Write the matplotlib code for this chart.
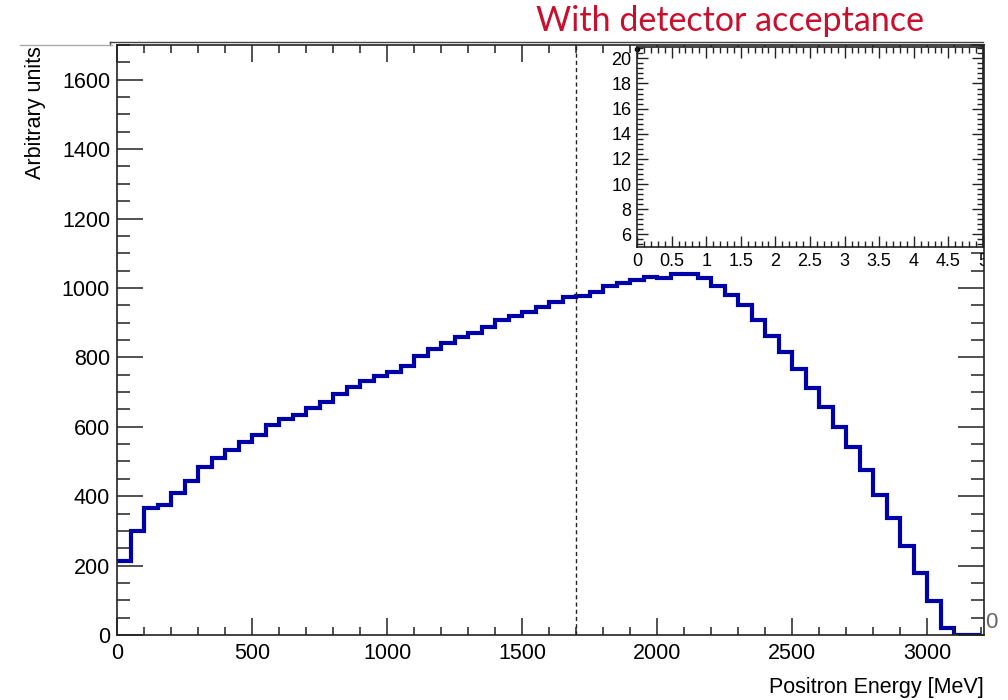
import matplotlib
matplotlib.use("Agg")
import matplotlib.pyplot as plt
import numpy as np
from matplotlib.lines import Line2D
from matplotlib.ticker import MultipleLocator
from matplotlib.transforms import Bbox

plt.rcParams["font.family"] = ["Liberation Sans", "DejaVu Sans"]

# histogram: 50 MeV bins, 0..3200 MeV
bin_width = 50
edges = np.arange(0, 3200 + bin_width, bin_width)
counts = [
    213, 300, 367, 375, 410, 445, 485, 509, 533, 555,
    576, 604, 623, 635, 653, 672, 694, 716, 732, 745,
    757, 775, 804, 823, 842, 860, 869, 888, 908, 920,
    932, 946, 959, 975, 978, 987, 1006, 1013, 1022, 1032,
    1029, 1041, 1041, 1029, 1005, 980, 951, 908, 862, 816,
    766, 713, 658, 599, 543, 476, 404, 336, 257, 178,
    99, 19, 0, 0,
]
cut_energy = 1700
title = "With detector acceptance"
xlabel = "Positron Energy [MeV]"
ylabel = "Arbitrary units"
inset_xlim = (0, 5)
inset_ylim = (5, 20.9)
inset_dot = (0, 20.75)

W, H = 1008, 700
fig = plt.figure(figsize=(W / 100, H / 100), dpi=100)


def fbox(x0, y0, x1, y1):
    # pixel box (top-left origin) -> figure fraction rect
    return [x0 / W, 1 - y1 / H, (x1 - x0) / W, (y1 - y0) / H]


ax = fig.add_axes(fbox(117, 45, 984, 635))
ax.stairs(counts, edges, color="#0000a8", lw=3, baseline=None)
ax.axvline(cut_energy, color="#222222", lw=1, dashes=(3, 2.2))
ax.set_xlim(0, 3210)
ax.set_ylim(0, 1700)
ax.xaxis.set_major_locator(MultipleLocator(500))
ax.xaxis.set_minor_locator(MultipleLocator(100))
ax.yaxis.set_major_locator(MultipleLocator(200))
ax.yaxis.set_minor_locator(MultipleLocator(50))
ax.tick_params(which="both", direction="in", top=True, right=True,
               width=1.1, color="#222222", labelsize=15.5)
ax.tick_params(axis="y", which="major", length=19, pad=5)
ax.tick_params(axis="y", which="minor", length=9.5)
ax.tick_params(axis="x", which="major", length=12, pad=6)
ax.tick_params(axis="x", which="minor", length=6)
for s in ax.spines.values():
    s.set_linewidth(1.2)
    s.set_color("#222222")

fig.text(35 / W, 1 - 46 / H, ylabel, rotation=90, ha="center", va="top",
         fontsize=15.5)
fig.text(984 / W, 1 - 688 / H, xlabel, ha="right", va="center", fontsize=15.5)
fig.text(985 / W, 1 - 622 / H, "0", ha="left", va="center", fontsize=16,
         color="#666666")

# inset pad (empty)
ins = fig.add_axes(fbox(637, 47, 983, 247))
ins.set_xlim(*inset_xlim)
ins.set_ylim(*inset_ylim)
ins.plot(*inset_dot, "o", color="black", ms=3, clip_on=False)
ins.xaxis.set_major_locator(MultipleLocator(0.5))
ins.xaxis.set_minor_locator(MultipleLocator(0.1))
ins.yaxis.set_major_locator(MultipleLocator(2))
ins.yaxis.set_minor_locator(MultipleLocator(0.4))
ins.tick_params(which="both", direction="in", top=True, right=True,
                width=1, color="#222222", labelsize=13)
ins.tick_params(which="major", length=8, pad=4)
ins.tick_params(which="minor", length=4)
ins.xaxis.set_major_formatter(plt.FuncFormatter(lambda v, p: f"{v:g}"))
for s in ins.spines.values():
    s.set_linewidth(1.2)
    s.set_color("#222222")

# the "5" at the right end is cut by the slide edge
fig.canvas.draw()
clip = Bbox.from_extents(0, 0, 984, H)
for lab in ins.get_xticklabels():
    lab.set_clip_box(clip)
    lab.set_clip_on(True)

# slide frame lines above the plot
fig.add_artist(Line2D([110 / W, 983 / W], [1 - 41.5 / H, 1 - 41.5 / H],
                      color="#444444", lw=1))
fig.add_artist(Line2D([110 / W, 110 / W], [1 - 41.5 / H, 1 - 45 / H],
                      color="#444444", lw=1))
fig.add_artist(Line2D([20 / W, 112 / W], [1 - 45 / H, 1 - 45 / H],
                      color="#aaaaaa", lw=1))

fig.text(730 / W, 1 - 21 / H, title, ha="center", va="center",
         fontsize=24.5, color="#c8102e", family=["Lato", "DejaVu Sans"])

fig.savefig("out.png", dpi=100)
